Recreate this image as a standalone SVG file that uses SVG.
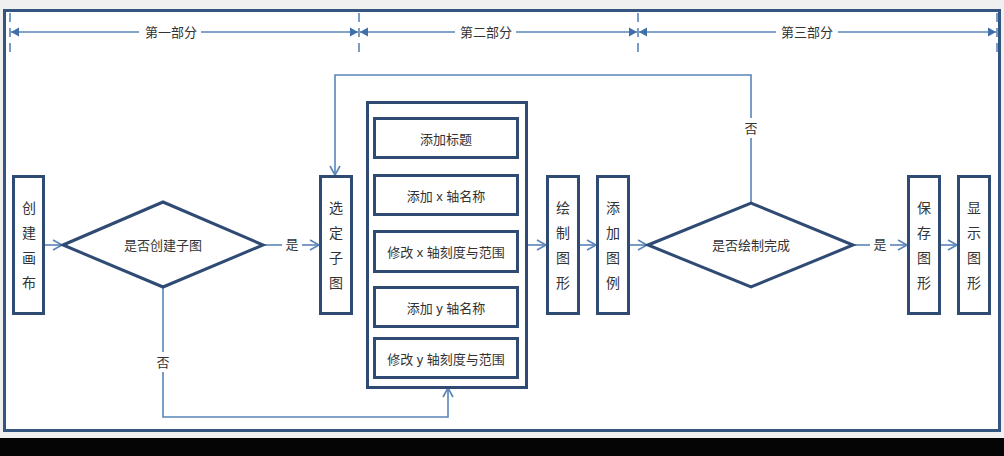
<svg xmlns="http://www.w3.org/2000/svg" width="1004" height="456" viewBox="0 0 1004 456">
  <defs>
    <style>
      .box { fill: #ffffff; stroke: #2f4b74; stroke-width: 3; }
      .frame { fill: #ffffff; stroke: #34557f; stroke-width: 3; }
      .conn { fill: none; stroke: #5a84b8; stroke-width: 1.6; }
      .dash { fill: none; stroke: #5a84b8; stroke-width: 1.6; stroke-dasharray: 9 6; }
      .t { font-family: "Liberation Sans", "Noto Sans CJK SC", sans-serif; font-size: 13px; fill: #333333; text-anchor: middle; dominant-baseline: central; }
      .v { font-family: "Liberation Sans", "Noto Sans CJK SC", sans-serif; font-size: 14px; fill: #333333; text-anchor: middle; }
      .lbl { fill: #ffffff; }
    </style>
    <marker id="open" markerUnits="userSpaceOnUse" markerWidth="14" markerHeight="14" refX="10" refY="6" orient="auto">
      <path d="M1,1 L10,6 L1,11" fill="none" stroke="#5a84b8" stroke-width="1.6"/>
    </marker>
    <marker id="tri" markerUnits="userSpaceOnUse" markerWidth="10" markerHeight="10" refX="8" refY="5" orient="auto-start-reverse">
      <path d="M0,0.5 L8,5 L0,9.5 Z" fill="#3f6ea8"/>
    </marker>
  </defs>

  <rect x="0" y="0" width="1004" height="456" fill="#f0f0f0"/>
  <rect x="0" y="438" width="1004" height="18" fill="#050505"/>
  <rect class="frame" x="4.5" y="10.5" width="995" height="420"/>

  <g id="header">
    <line class="dash" x1="10" y1="13" x2="10" y2="56"/>
    <line class="dash" x1="359" y1="13" x2="359" y2="56"/>
    <line class="dash" x1="638" y1="13" x2="638" y2="56"/>
    <line class="dash" x1="997" y1="13" x2="997" y2="56"/>
    <line class="conn" x1="11" y1="32" x2="139" y2="32" marker-start="url(#tri)"/>
    <line class="conn" x1="201" y1="32" x2="358" y2="32" marker-end="url(#tri)"/>
    <line class="conn" x1="360" y1="32" x2="455" y2="32" marker-start="url(#tri)"/>
    <line class="conn" x1="516" y1="32" x2="637" y2="32" marker-end="url(#tri)"/>
    <line class="conn" x1="639" y1="32" x2="776" y2="32" marker-start="url(#tri)"/>
    <line class="conn" x1="838" y1="32" x2="996" y2="32" marker-end="url(#tri)"/>
    <text class="t" x="171" y="32">第一部分</text>
    <text class="t" x="486" y="32">第二部分</text>
    <text class="t" x="807" y="32">第三部分</text>
  </g>

  <g id="connectors">
    <line class="conn" x1="44" y1="245" x2="62" y2="245" marker-end="url(#open)"/>
    <line class="conn" x1="263" y1="245" x2="282" y2="245"/>
    <line class="conn" x1="302" y1="245" x2="319" y2="245" marker-end="url(#open)"/>
    <polyline class="conn" points="163,287 163,417 448,417 448,388" marker-end="url(#open)"/>
    <line class="conn" x1="527" y1="245" x2="546" y2="245" marker-end="url(#open)"/>
    <line class="conn" x1="579" y1="245" x2="596" y2="245" marker-end="url(#open)"/>
    <line class="conn" x1="629" y1="245" x2="647" y2="245" marker-end="url(#open)"/>
    <polyline class="conn" points="751,203 751,75 335,75 335,175" marker-end="url(#open)"/>
    <line class="conn" x1="853" y1="245" x2="870" y2="245"/>
    <line class="conn" x1="890" y1="245" x2="907" y2="245" marker-end="url(#open)"/>
    <line class="conn" x1="940" y1="245" x2="957" y2="245" marker-end="url(#open)"/>
    <rect class="lbl" x="155" y="352" width="16" height="20"/>
    <text class="t" x="163" y="362">否</text>
    <rect class="lbl" x="743" y="118" width="16" height="20"/>
    <text class="t" x="751" y="128">否</text>
    <text class="t" x="292" y="244">是</text>
    <text class="t" x="880" y="244">是</text>
  </g>

  <g id="create-canvas">
    <rect class="box" x="13.5" y="176.5" width="30" height="137"/>
    <text class="v" x="29" y="213"><tspan x="29">创</tspan><tspan x="29" dy="25">建</tspan><tspan x="29" dy="25">画</tspan><tspan x="29" dy="25">布</tspan></text>
  </g>

  <g id="decide-subplot">
    <polygon class="box" points="63,245 163,202 263,245 163,287"/>
    <text class="t" x="163" y="245">是否创建子图</text>
  </g>

  <g id="select-subplot">
    <rect class="box" x="320.5" y="176.5" width="31" height="137"/>
    <text class="v" x="336" y="213"><tspan x="336">选</tspan><tspan x="336" dy="25">定</tspan><tspan x="336" dy="25">子</tspan><tspan x="336" dy="25">图</tspan></text>
  </g>

  <g id="settings-group">
    <rect class="box" x="367.5" y="102.5" width="159" height="285"/>
  </g>
  <g id="add-title">
    <rect class="box" x="374.5" y="118.5" width="143" height="39"/>
    <text class="t" x="446" y="139">添加标题</text>
  </g>
  <g id="add-xlabel">
    <rect class="box" x="374.5" y="175.5" width="143" height="39"/>
    <text class="t" x="446" y="196">添加 x 轴名称</text>
  </g>
  <g id="set-xticks">
    <rect class="box" x="374.5" y="231.5" width="143" height="40"/>
    <text class="t" x="446" y="252">修改 x 轴刻度与范围</text>
  </g>
  <g id="add-ylabel">
    <rect class="box" x="374.5" y="287.5" width="143" height="39"/>
    <text class="t" x="446" y="308">添加 y 轴名称</text>
  </g>
  <g id="set-yticks">
    <rect class="box" x="374.5" y="338.5" width="143" height="39"/>
    <text class="t" x="446" y="359">修改 y 轴刻度与范围</text>
  </g>

  <g id="draw-plot">
    <rect class="box" x="547.5" y="176.5" width="31" height="137"/>
    <text class="v" x="563" y="213"><tspan x="563">绘</tspan><tspan x="563" dy="25">制</tspan><tspan x="563" dy="25">图</tspan><tspan x="563" dy="25">形</tspan></text>
  </g>

  <g id="add-legend">
    <rect class="box" x="597.5" y="176.5" width="31" height="137"/>
    <text class="v" x="613" y="213"><tspan x="613">添</tspan><tspan x="613" dy="25">加</tspan><tspan x="613" dy="25">图</tspan><tspan x="613" dy="25">例</tspan></text>
  </g>

  <g id="decide-done">
    <polygon class="box" points="648,245 751,203 853,245 751,287"/>
    <text class="t" x="751" y="245">是否绘制完成</text>
  </g>

  <g id="save-figure">
    <rect class="box" x="908.5" y="176.5" width="31" height="137"/>
    <text class="v" x="924" y="213"><tspan x="924">保</tspan><tspan x="924" dy="25">存</tspan><tspan x="924" dy="25">图</tspan><tspan x="924" dy="25">形</tspan></text>
  </g>

  <g id="show-figure">
    <rect class="box" x="958.5" y="176.5" width="31" height="137"/>
    <text class="v" x="974" y="213"><tspan x="974">显</tspan><tspan x="974" dy="25">示</tspan><tspan x="974" dy="25">图</tspan><tspan x="974" dy="25">形</tspan></text>
  </g>
</svg>
